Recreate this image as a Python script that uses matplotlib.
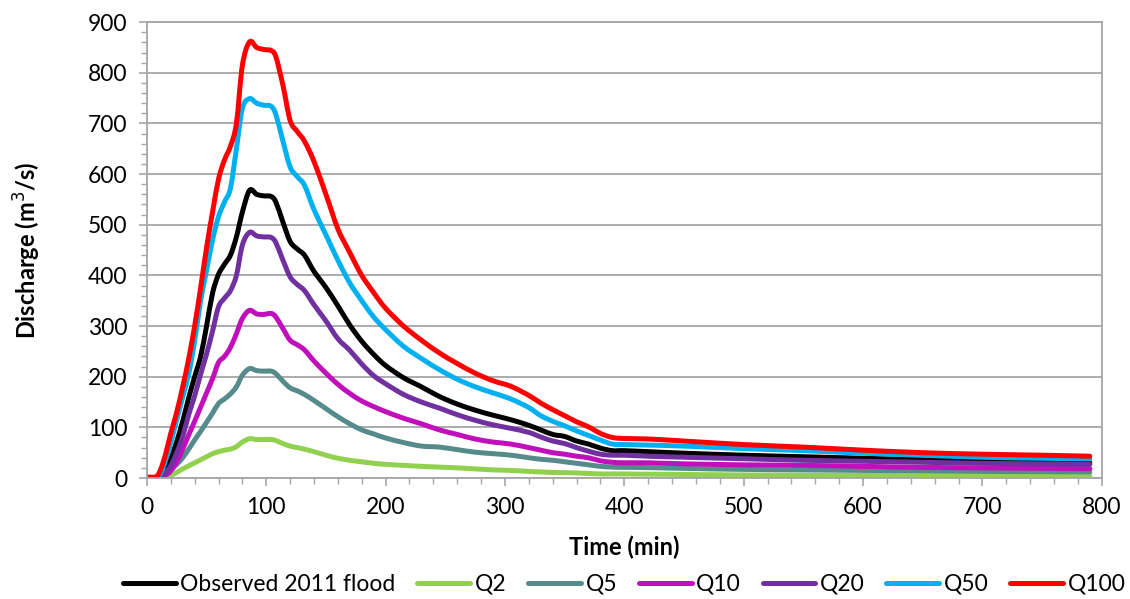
import matplotlib
matplotlib.use("Agg")
import matplotlib.pyplot as plt
from matplotlib.ticker import MultipleLocator
from matplotlib.path import Path
from matplotlib.patches import PathPatch

plt.rcParams['font.family'] = ['Lato', 'DejaVu Sans']

# time axis (min)
t = [0, 8, 12, 16, 20, 25, 30, 35, 40, 45, 50, 55, 60, 65, 70, 75, 80, 86, 92, 98,
     104, 108, 114, 120, 126, 132, 140, 150, 160, 170, 180, 190, 200, 215, 230, 245,
     260, 275, 290, 305, 320, 330, 340, 350, 360, 370, 380, 390, 400, 420, 450, 500,
     550, 600, 650, 700, 750, 790]

observed = [0, 0, 4, 15, 38, 72, 112, 158, 200, 240, 300, 365, 402, 422, 440, 476, 525, 568, 560, 557,
            556, 545, 505, 467, 452, 440, 408, 376, 340, 302, 270, 244, 222, 198, 180, 161,
            146, 134, 124, 115, 104, 95, 86, 82, 73, 67, 59, 54, 54, 52, 49, 45,
            42, 39, 36, 34, 32, 30]
q2 = [0, 0, 0, 1, 5, 11, 18, 24, 30, 36, 42, 48, 52, 55, 57, 62, 71, 77.5, 76, 76,
      76, 74, 68, 63, 60, 57, 52, 45, 39, 35, 32, 29, 27, 25, 23, 21.5,
      20, 18, 16, 15, 13, 12, 11, 10.5, 10, 9, 8, 8, 8, 7.5, 7, 6,
      5.5, 5, 4.5, 4, 3.5, 3.4]
q5 = [0, 0, 1, 8, 16, 27, 40, 57, 75, 92, 110, 128, 147, 156, 166, 180, 203, 216, 212, 211,
      211, 206, 191, 178, 172, 165, 153, 137, 121, 107, 95, 87, 79, 70, 63, 61,
      56, 51, 48, 45, 40, 37, 35, 32, 29, 26, 23, 21.5, 21, 20.5, 19, 17,
      16, 15, 14, 13, 12.5, 12]
q10 = [0, 0, 1, 6, 14, 32, 57, 85, 112, 140, 168, 196, 228, 240, 258, 285, 315, 331, 324, 323,
       325, 318, 295, 272, 263, 253, 231, 207, 185, 167, 152, 141, 131, 118, 107, 95,
       86, 77, 71, 67, 60, 55, 50, 47, 43, 40, 34, 31, 30, 30, 28, 26,
       25, 23, 21, 20, 19, 18.5]
q20 = [0, 0, 3, 12, 24, 50, 82, 125, 162, 205, 245, 290, 338, 355, 370, 400, 460, 485, 478, 476,
       475, 465, 430, 397, 382, 370, 342, 310, 275, 252, 225, 202, 186, 165, 150, 138,
       125, 114, 105, 98, 90, 81, 73, 68, 60, 53, 47, 45, 45, 43, 41, 38,
       35, 33, 31, 29, 28, 27]
q50 = [0, 1, 12, 38, 70, 115, 160, 205, 270, 350, 410, 470, 516, 545, 572, 650, 730, 749, 740, 736,
       734, 718, 665, 614, 595, 578, 530, 480, 430, 385, 350, 318, 293, 260, 236, 214,
       195, 180, 168, 156, 139, 123, 112, 103, 93, 84, 75, 67, 66, 65, 63, 58,
       54, 49, 45, 41, 39, 38]
q100 = [2, 3, 20, 50, 88, 130, 180, 235, 300, 375, 455, 525, 590, 628, 655, 700, 815, 861, 850, 846,
        844, 832, 775, 706, 684, 665, 625, 560, 492, 445, 400, 366, 335, 300, 272, 247,
        226, 207, 192, 181, 163, 148, 135, 123, 111, 101, 88, 80, 78, 77, 73, 66,
        61, 55, 50, 47, 45, 43]

names = ['Observed 2011 flood', 'Q2', 'Q5', 'Q10', 'Q20', 'Q50', 'Q100']
colors = ['#000000', '#92D050', '#558B8B', '#C00FBB', '#7030A0', '#00B0F0', '#FF0000']
series = [observed, q2, q5, q10, q20, q50, q100]


def smooth_path(x, y):
    # Excel-like smoothed line: bezier segments through the data points
    pts = list(zip(x, y))
    n = len(pts)
    verts = [pts[0]]
    codes = [Path.MOVETO]
    for i in range(n - 1):
        p0 = pts[i - 1] if i > 0 else pts[i]
        p1, p2 = pts[i], pts[i + 1]
        p3 = pts[i + 2] if i + 2 < n else pts[i + 1]
        c1 = (p1[0] + (p2[0] - p0[0]) / 6, p1[1] + (p2[1] - p0[1]) / 6)
        c2 = (p2[0] - (p3[0] - p1[0]) / 6, p2[1] - (p3[1] - p1[1]) / 6)
        verts += [c1, c2, p2]
        codes += [Path.CURVE4] * 3
    return Path(verts, codes)


fig = plt.figure(figsize=(11.3, 5.99), dpi=100)
ax = fig.add_axes([0.130, 0.202, 0.845, 0.761])

for name, col, vals in zip(names, colors, series):
    ax.add_patch(PathPatch(smooth_path(t, vals), facecolor='none', edgecolor=col, lw=3.6,
                           capstyle='round', joinstyle='round'))
    ax.plot([], [], color=col, lw=3.6, label=name, solid_capstyle='round')

ax.set_xlim(0, 800)
ax.set_ylim(0, 900)
ax.xaxis.set_major_locator(MultipleLocator(100))
ax.xaxis.set_minor_locator(MultipleLocator(20))
ax.yaxis.set_major_locator(MultipleLocator(100))
ax.yaxis.set_minor_locator(MultipleLocator(20))
ax.grid(axis='y', which='major', color='#A6A6A6', lw=1.3)
ax.set_axisbelow(True)
for s in ax.spines.values():
    s.set_color('#A6A6A6')
    s.set_linewidth(1.3)
ax.tick_params(which='major', length=6, width=1.2, color='#A6A6A6', labelsize=16.5)
ax.tick_params(axis='x', which='major', pad=8)
ax.tick_params(axis='y', which='major', pad=8)
ax.tick_params(which='minor', length=4.5, width=1.0, color='#A6A6A6')

ax.set_xlabel('Time (min)', fontsize=17, fontweight='bold', labelpad=12)
ax.set_ylabel('Discharge (m$^3$/s)', fontsize=17, fontweight='bold', labelpad=32)

ax.legend(loc='upper center', bbox_to_anchor=(0.5, -0.19), ncol=7, frameon=False,
          fontsize=16.5, handlelength=2.3, handletextpad=0.2, columnspacing=0.95,
          borderaxespad=0)

fig.savefig('out.png', dpi=100)
